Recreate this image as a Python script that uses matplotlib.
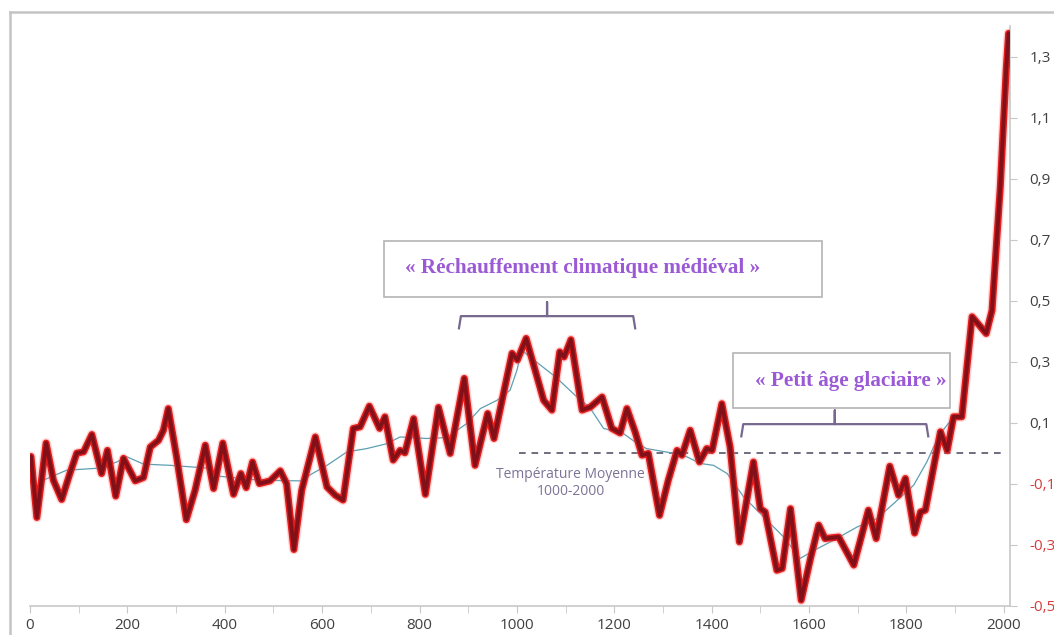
import matplotlib
matplotlib.use("Agg")
import matplotlib.pyplot as plt
import matplotlib.patheffects as pe
from matplotlib.lines import Line2D
from matplotlib.patches import Rectangle

# reconstruction des températures (écart, °C)
years = [2, 14, 33, 48, 65, 82, 96, 110, 127, 147, 159, 176, 192, 216, 233, 247, 264, 274, 284,
         301, 321, 339, 360, 377, 396, 418, 433, 444, 457, 471, 493, 514, 527, 542, 558, 586, 610,
         627, 643, 664, 678, 697, 718, 729, 746, 760, 770, 788, 812, 839, 863, 892, 914, 940, 953,
         990, 1001, 1019, 1055, 1072, 1088, 1097, 1111, 1134, 1151, 1175, 1195, 1212, 1226, 1243,
         1257, 1270, 1293, 1311, 1329, 1339, 1356, 1375, 1390, 1401, 1421, 1438, 1457, 1486, 1500,
         1510, 1534, 1545, 1562, 1584, 1603, 1620, 1633, 1661, 1692, 1722, 1738, 1766, 1784, 1798,
         1817, 1829, 1839, 1870, 1884, 1897, 1914, 1935, 1964, 1976, 1993, 2005, 2010]
temps = [-0.01, -0.21, 0.034, -0.088, -0.151, -0.065, 0.001, 0.005, 0.062, -0.066, 0.010, -0.140,
         -0.016, -0.090, -0.079, 0.021, 0.043, 0.076, 0.147, -0.011, -0.217, -0.121, 0.027, -0.115,
         0.034, -0.134, -0.066, -0.112, -0.028, -0.099, -0.090, -0.057, -0.099, -0.315, -0.121,
         0.054, -0.110, -0.137, -0.153, 0.082, 0.087, 0.155, 0.082, 0.120, -0.022, 0.010, 0.002,
         0.114, -0.134, 0.151, 0.000, 0.246, -0.039, 0.131, 0.049, 0.328, 0.306, 0.377, 0.174,
         0.142, 0.333, 0.316, 0.373, 0.142, 0.152, 0.185, 0.082, 0.067, 0.147, 0.070, -0.006, 0.0,
         -0.203, -0.088, 0.010, -0.006, 0.076, -0.028, 0.016, 0.010, 0.163, 0.021, -0.290, -0.028,
         -0.181, -0.192, -0.383, -0.377, -0.181, -0.481, -0.345, -0.235, -0.279, -0.274, -0.366,
         -0.186, -0.279, -0.042, -0.137, -0.082, -0.261, -0.192, -0.186, 0.071, 0.010, 0.120,
         0.120, 0.448, 0.393, 0.469, 0.874, 1.256, 1.377]

# tendance lissée (trait fin)
trend_years = [27, 75, 144, 178, 199, 233, 288, 363, 390, 473, 555, 581, 610, 651, 692, 733, 760,
               815, 856, 897, 925, 959, 986, 1000, 1010, 1040, 1080, 1120, 1150, 1178, 1218, 1238,
               1266, 1320, 1349, 1377, 1404, 1432, 1466, 1500, 1548, 1582, 1609, 1650, 1699, 1740,
               1781, 1815, 1842, 1856, 1870, 1897]
trend_temps = [-0.088, -0.055, -0.048, -0.028, -0.011, -0.035, -0.039, -0.048, -0.075, -0.088,
               -0.090, -0.065, -0.039, 0.005, 0.016, 0.032, 0.054, 0.049, 0.052, 0.098, 0.147,
               0.174, 0.207, 0.272, 0.338, 0.30, 0.25, 0.19, 0.15, 0.082, 0.066, 0.043, 0.016,
               0.001, -0.011, -0.033, -0.039, -0.066, -0.143, -0.197, -0.274, -0.344, -0.319,
               -0.285, -0.241, -0.213, -0.154, -0.104, -0.028, 0.021, 0.065, 0.12]

x_ticks = list(range(0, 2001, 200))
y_ticks = [-0.5, -0.3, -0.1, 0.1, 0.3, 0.5, 0.7, 0.9, 1.1, 1.3]
mean_level = 0.0
mean_span = (1005, 2000)

PURPLE = "#9b59d6"
BRACKET = "#76688e"

fig = plt.figure(figsize=(10.54, 6.35), dpi=100)
ax = fig.add_axes([0.0285, 0.0457, 0.9298, 0.9129])
ax.set_xlim(0, 2013)
ax.set_ylim(-0.5, 1.4)

ax.plot(trend_years, trend_temps, color="#5e9fb4", linewidth=0.9, zorder=2)
ax.plot(
    years, temps, color="#821018", linewidth=2.8, solid_joinstyle="round", solid_capstyle="round",
    zorder=3,
    path_effects=[
        pe.Stroke(linewidth=7.0, foreground="#ff7070", alpha=0.3),
        pe.Stroke(linewidth=5.0, foreground="#e01c1c"),
        pe.Normal(),
    ],
)

ax.hlines(mean_level, *mean_span, colors="#55556a", linestyles=(0, (4, 3.5)), linewidth=1.2, zorder=1)
ax.text(1110, -0.097, "Température Moyenne\n1000-2000", ha="center", va="center",
        fontsize=10, color="#7c7396", family="Open Sans", linespacing=1.25)

# accolades et encadrés
def bracket(x0, x1, y, drop, rise):
    xm = (x0 + x1) / 2
    ax.plot([x0, x0 + 4, xm, xm, xm, x1 - 4, x1],
            [y - drop, y, y, y + rise, y, y, y - drop],
            color=BRACKET, linewidth=1.6, solid_joinstyle="round", zorder=4)

bracket(881, 1243, 0.450, 0.04, 0.046)
bracket(1461, 1845, 0.096, 0.04, 0.045)

ax.add_patch(Rectangle((727, 0.512), 900, 0.184, facecolor="white", edgecolor="#b4b4b4",
                       linewidth=1.2, zorder=5))
ax.text(770, 0.607, "« Réchauffement climatique médiéval »", ha="left", va="center",
        fontsize=15.2, fontweight="bold", color=PURPLE, family="Liberation Serif", zorder=6)
ax.add_patch(Rectangle((1444, 0.148), 446, 0.180, facecolor="white", edgecolor="#b4b4b4",
                       linewidth=1.2, zorder=5))
ax.text(1882, 0.237, "« Petit âge glaciaire »", ha="right", va="center",
        fontsize=15.2, fontweight="bold", color=PURPLE, family="Liberation Serif", zorder=6)

# axes
for side in ("top", "left"):
    ax.spines[side].set_visible(False)
for side in ("bottom", "right"):
    ax.spines[side].set_color("#c8c8c8")
    ax.spines[side].set_linewidth(1.2)

ax.set_xticks(x_ticks)
ax.set_xticks(range(100, 2001, 200), minor=True)
ax.set_xticklabels([str(t) for t in x_ticks])
ax.yaxis.tick_right()
ax.set_yticks(y_ticks)
ax.set_yticklabels([f"{t:.1f}".replace(".", ",") for t in y_ticks])
for label, t in zip(ax.get_yticklabels(), y_ticks):
    label.set_color("#d63c3c" if t < 0 else "#404040")
ax.tick_params(axis="x", which="both", direction="out", length=5, color="#c8c8c8",
               labelsize=11, labelcolor="#404040", pad=4)
ax.tick_params(axis="y", direction="out", length=5, color="#c8c8c8", labelsize=11, pad=9)
for label in ax.get_xticklabels() + ax.get_yticklabels():
    label.set_family("Open Sans")

# cadre gris de la zone du graphique
fig.add_artist(Line2D([10 / 1054, 10 / 1054], [0, 1 - 12 / 635], color="#c4c4c4", linewidth=1.8))
fig.add_artist(Line2D([10 / 1054, 1], [1 - 12 / 635, 1 - 12 / 635], color="#c4c4c4", linewidth=1.8))

fig.savefig("out.png", dpi=100, facecolor="white")
